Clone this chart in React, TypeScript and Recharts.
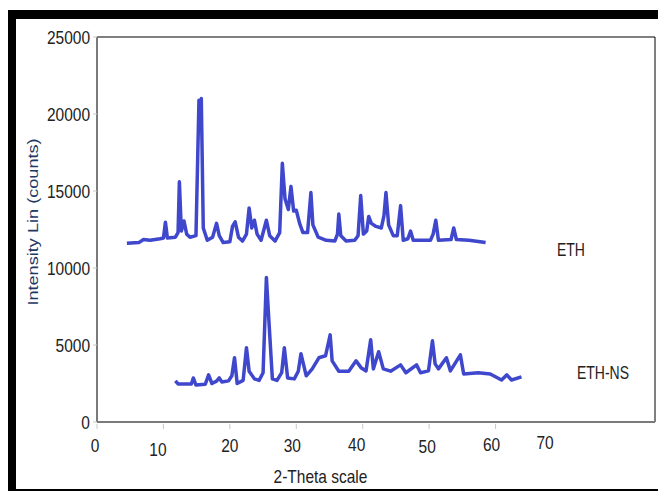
import React from 'react';
import { LineChart, Line, XAxis, YAxis, ReferenceLine } from 'recharts';

// ETH powder pattern (2-theta in degrees, counts)
const ethTheta = [
  4.5, 6.3, 7.0, 8.0, 9.5, 10.0, 10.3, 10.6, 11.8, 12.2, 12.4, 12.7, 13.1, 13.5, 14.0, 14.9,
  15.35, 15.55, 15.7, 16.0, 16.6, 17.4, 18.0, 18.4, 19.0, 20.0, 20.4, 20.8, 21.3, 21.9, 22.5, 22.9,
  23.3, 23.7, 24.1, 24.7, 25.5, 26.0, 26.8, 27.5, 27.9, 28.3, 28.8, 29.2, 29.6, 30.0, 30.5, 31.0,
  31.7, 32.2, 32.5, 33.3, 34.5, 35.8, 36.2, 36.4, 36.7, 37.5, 38.8, 39.3, 39.7, 40.1, 40.6, 40.9,
  41.3, 42.0, 42.8, 43.2, 43.5, 43.9, 44.6, 45.2, 45.7, 46.1, 46.8, 47.2, 47.6, 50.2, 50.6, 51.0,
  51.4, 53.3, 53.7, 54.1, 56.0, 58.5,
];
const ethCounts = [
  11600, 11650, 11850, 11800, 11900, 11950, 12970, 11950, 12000, 12300, 15600, 12400, 13050, 12200, 12000, 12100,
  20900, 20400, 21000, 12600, 11800, 12000, 12900, 12100, 11650, 11700, 12700, 13000, 12000, 11750, 12200, 13900,
  12600, 13100, 12200, 11800, 13100, 12100, 11750, 12300, 16800, 14500, 13800, 15300, 13700, 13750, 12900, 12300,
  12300, 14900, 12800, 12000, 11800, 11750, 12200, 13500, 12100, 11750, 11800, 12100, 14700, 12200, 12400, 13350,
  12900, 12700, 12600, 13400, 14900, 12800, 12100, 12100, 14050, 11800, 11900, 12400, 11800, 11800, 12200, 13100,
  11800, 11850, 12600, 11850, 11800, 11650,
];

// ETH-NS powder pattern
const nsTheta = [
  11.8, 12.2, 14.2, 14.5, 14.9, 16.3, 16.8, 17.3, 18.0, 18.4, 18.8, 19.8, 20.3, 20.7, 21.1, 22.0,
  22.5, 22.9, 23.7, 24.4, 25.0, 25.5, 25.9, 26.4, 27.1, 27.8, 28.2, 28.7, 29.7, 30.3, 30.7, 31.5,
  32.4, 33.4, 34.4, 35.1, 35.4, 36.4, 37.9, 39.0, 39.8, 40.5, 41.2, 41.6, 42.4, 43.1, 44.2, 45.7,
  46.5, 48.1, 48.7, 49.9, 50.5, 50.9, 51.4, 52.6, 53.2, 54.7, 55.2, 57.4, 59.2, 60.9, 61.7, 62.4,
  63.9,
];
const nsCounts = [
  2670, 2470, 2470, 2860, 2400, 2450, 3060, 2500, 2650, 2860, 2600, 2670, 3000, 4170, 2500, 2700,
  4820, 3300, 2800, 2700, 3200, 9380, 6400, 2800, 2700, 3200, 4820, 2850, 2800, 3300, 4430, 3000,
  3450, 4170, 4300, 5660, 3970, 3300, 3300, 3970, 3500, 3320, 5340, 3450, 4560, 3450, 3300, 3710,
  3200, 3710, 3200, 3320, 5270, 3775, 3450, 4170, 3320, 4360, 3120, 3200, 3120, 2730, 3060, 2730,
  2930,
];

const xTicks = [0, 10, 20, 30, 40, 50, 60, 70];
const yTicks = [0, 5000, 10000, 15000, 20000, 25000];

const ethData = ethTheta.map((t, i) => ({ theta: t, counts: ethCounts[i] }));
const nsData = nsTheta.map((t, i) => ({ theta: t, counts: nsCounts[i] }));

const X_MAX = 84;
const Y_MAX = 25000;
const LINE_COLOR = '#3f47cc';
const FONT = '"Liberation Sans", Arial, sans-serif';
const STRETCH = 1.17; // glyphs are drawn taller than wide

const TICK_SIZE = 5;
const TICK_MARGIN = 6;

// text centred vertically on (x, y), stretched vertically
const TallText = ({ x, y, anchor = 'middle', size = 15.5, fill = '#222', stretch = STRETCH, rotate = 0, children }: any) => (
  <text
    transform={`translate(${x},${y}) scale(1,${stretch}) rotate(${rotate})`}
    x={0}
    y={0.36 * size}
    textAnchor={anchor}
    fill={fill}
    fontSize={size}
    fontFamily={FONT}
  >
    {children}
  </text>
);

// hand-nudged label positions on the 2-theta axis
const labelNudge: Record<number, [number, number]> = {
  0: [-2, 0],
  10: [-5.5, 4],
  30: [-4, 0],
  40: [-6, -1],
  50: [-2, 1],
  60: [-4, -1],
  70: [-17, -3],
};

const ThetaTick = (props: any) => {
  const { x, y, payload } = props;
  const v = payload.value as number;
  const axisY = y - TICK_SIZE - TICK_MARGIN;
  const [dx, dy] = labelNudge[v] || [0, 0];
  return (
    <g>
      {v <= 60 && <line x1={x} x2={x} y1={axisY + 2} y2={axisY + 7} stroke="#c8c8c8" />}
      <TallText x={x + dx} y={axisY + 23 + dy}>
        {v}
      </TallText>
    </g>
  );
};

const CountTick = (props: any) => {
  const { x, y, payload } = props;
  return (
    <TallText x={x} y={y} anchor="end">
      {payload.value}
    </TallText>
  );
};

export default function App() {
  return (
    <div
      style={{
        marginTop: 2,
        marginLeft: -1,
        width: 659,
        height: 481,
        boxSizing: 'border-box',
        borderTop: '9px solid #000',
        borderLeft: '9px solid #000',
        borderBottom: '2px solid #000',
        background: '#fff',
      }}
    >
      <LineChart width={650} height={470} margin={{ top: 18, right: 11, bottom: 0, left: 0 }}>
        <XAxis
          type="number"
          dataKey="theta"
          domain={[0, X_MAX]}
          ticks={xTicks}
          allowDataOverflow
          height={67}
          axisLine={{ stroke: '#7a7a7a', strokeWidth: 2 }}
          tickLine={false}
          tickSize={TICK_SIZE}
          tickMargin={TICK_MARGIN}
          tick={<ThetaTick />}
        />
        <YAxis
          type="number"
          dataKey="counts"
          domain={[0, Y_MAX]}
          ticks={yTicks}
          width={81}
          axisLine={{ stroke: '#7a7a7a', strokeWidth: 2 }}
          tickLine={{ stroke: '#c8c8c8' }}
          tickSize={4}
          tickMargin={3}
          tick={<CountTick />}
        />
        <ReferenceLine y={Y_MAX} stroke="#000" strokeWidth={1} />
        <ReferenceLine x={X_MAX} stroke="#000" strokeWidth={1} />
        <Line
          data={ethData}
          dataKey="counts"
          type="linear"
          stroke={LINE_COLOR}
          strokeWidth={3.5}
          strokeLinejoin="round"
          dot={false}
          isAnimationActive={false}
        />
        <Line
          data={nsData}
          dataKey="counts"
          type="linear"
          stroke={LINE_COLOR}
          strokeWidth={3.5}
          strokeLinejoin="round"
          dot={false}
          isAnimationActive={false}
        />
        <TallText x={16} y={203} rotate={-90} fill="#1f3864">
          Intensity Lin (counts)
        </TallText>
        <TallText x={304.5} y={457.5}>2-Theta scale</TallText>
        <TallText x={541} y={231} anchor="start" size={14} stretch={1.25}>
          ETH
        </TallText>
        <TallText x={561} y={354} anchor="start" size={14} stretch={1.25}>
          ETH-NS
        </TallText>
      </LineChart>
    </div>
  );
}
